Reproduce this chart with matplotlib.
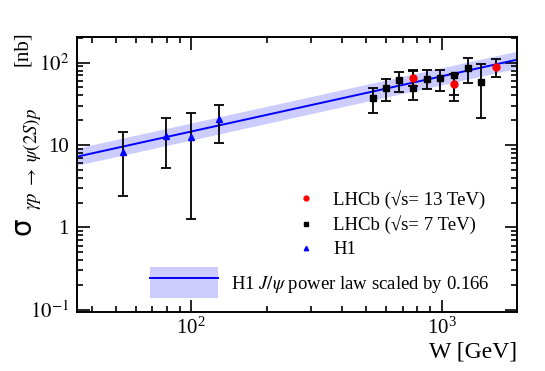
import numpy as np
import matplotlib
matplotlib.use('Agg')
import matplotlib.pyplot as plt
from matplotlib.patches import Patch
from matplotlib.lines import Line2D

plt.rcParams['font.family'] = ['Liberation Serif', 'DejaVu Serif']
plt.rcParams['mathtext.fontset'] = 'stix'

# H1 psi(2S) points
w_h1 = [53.2, 79.6, 100.0, 128.9]
xs_h1 = [8.3, 12.9, 12.6, 20.5]
lo_h1 = [2.42, 5.21, 1.25, 10.7]
hi_h1 = [14.5, 21.5, 24.7, 30.6]

# LHCb 7 TeV
w_7 = [530, 599, 679, 768, 871, 985, 1119, 1271, 1435]
xs_7 = [36.9, 48.9, 61.6, 49.6, 63.4, 64.6, 70.9, 85.5, 58.7]
lo_7 = [24.3, 34.4, 44.5, 35.2, 47.6, 45.3, 34.5, 57.1, 21.5]
hi_7 = [48.9, 63.1, 77.8, 82.2, 80.9, 82.2, 72.3, 113.0, 96.4]

# LHCb 13 TeV
w_13 = [768, 1119, 1644]
xs_13 = [64.6, 54.7, 89.4]
lo_13 = [52.0, 40.5, 67.6]
hi_13 = [80.0, 72.3, 111.0]

# H1 J/psi power law (scaled)
norm = 13.6
delta = 0.67
w0 = 90.0
band_fac = 1.27

W_PX, H_PX = 545, 371
fig = plt.figure(figsize=(W_PX / 100, H_PX / 100), dpi=100)
ax = fig.add_axes([0.1413, 0.159, 0.8073, 0.7413])

w = np.logspace(np.log10(35), np.log10(2000), 200)
sig = norm * (w / w0) ** delta
ax.fill_between(w, sig / band_fac, sig * band_fac, color='#ccccff', lw=0, zorder=1)
ax.plot(w, sig, color='#0000ff', lw=1.4, zorder=2)


def errs(v, lo, hi):
    v = np.array(v)
    return [v - np.array(lo), np.array(hi) - v]


eb = dict(fmt='none', ecolor='black', elinewidth=1.3, capsize=3.5, capthick=1.3, zorder=3)
ax.errorbar(w_h1, xs_h1, yerr=errs(xs_h1, lo_h1, hi_h1), **eb)
ax.errorbar(w_7, xs_7, yerr=errs(xs_7, lo_7, hi_7), **eb)
ax.errorbar(w_13, xs_13, yerr=errs(xs_13, lo_13, hi_13), **eb)

p13, = ax.plot(w_13, xs_13, 'o', color='red', ms=5, ls='none', zorder=5)
p7, = ax.plot(w_7, xs_7, 's', color='black', ms=5, ls='none', zorder=4)
ph1, = ax.plot(w_h1, xs_h1, '^', color='blue', ms=4.5, ls='none', zorder=4)

ax.set_xscale('log')
ax.set_yscale('log')
ax.set_xlim(35, 2000)
ax.set_ylim(0.094, 205)

ax.set_yticks([0.1, 1, 10, 100])
ax.set_yticklabels([r'$10^{-1}$', '1', '10', r'$10^{2}$'])
ax.tick_params(which='both', direction='in', top=True, right=True, width=1.2)
ax.tick_params(which='major', length=9, labelsize=15)
ax.tick_params(which='minor', length=4.5)
ax.tick_params(axis='x', which='major', pad=4)
ax.tick_params(axis='y', which='major', pad=6)
for s in ax.spines.values():
    s.set_linewidth(1.4)

ax.set_xlabel('W [GeV]', fontsize=17, loc='right')
ax.xaxis.set_label_coords(1.0, -0.108)

# y label built from pieces (big sigma, small subscript, unit)
def px(x, y):
    return x / W_PX, 1 - y / H_PX

fig.text(*px(23, 226), '\u03c3', family='DejaVu Sans', fontsize=20,
         rotation=90, ha='center', va='center')
fig.text(*px(32, 159), r'$\gamma p\ \rightarrow\ \psi(2S)p$', fontsize=13.5,
         rotation=90, ha='center', va='center')
fig.text(*px(22, 49), '[nb]', fontsize=15, rotation=90, ha='center', va='center')

leg1 = ax.legend([p13, p7, ph1],
                 ['LHCb (\u221as= 13 TeV)', 'LHCb (\u221as= 7 TeV)', 'H1'],
                 loc='upper left', bbox_to_anchor=(0.44, 0.505), frameon=False,
                 fontsize=13.5, markerscale=0.7, handletextpad=0.45, labelspacing=0.36)
ax.add_artist(leg1)

h_band = (Patch(facecolor='#ccccff', edgecolor='none'), Line2D([], [], color='#0000ff', lw=1.4))
ax.legend([h_band], [r'H1 $J/\psi$ power law scaled by 0.166'],
          loc='upper left', bbox_to_anchor=(0.128, 0.225), frameon=False,
          fontsize=13.5, handlelength=3.6, handleheight=2.2, handletextpad=0.7)

fig.savefig('out.png', dpi=100)
